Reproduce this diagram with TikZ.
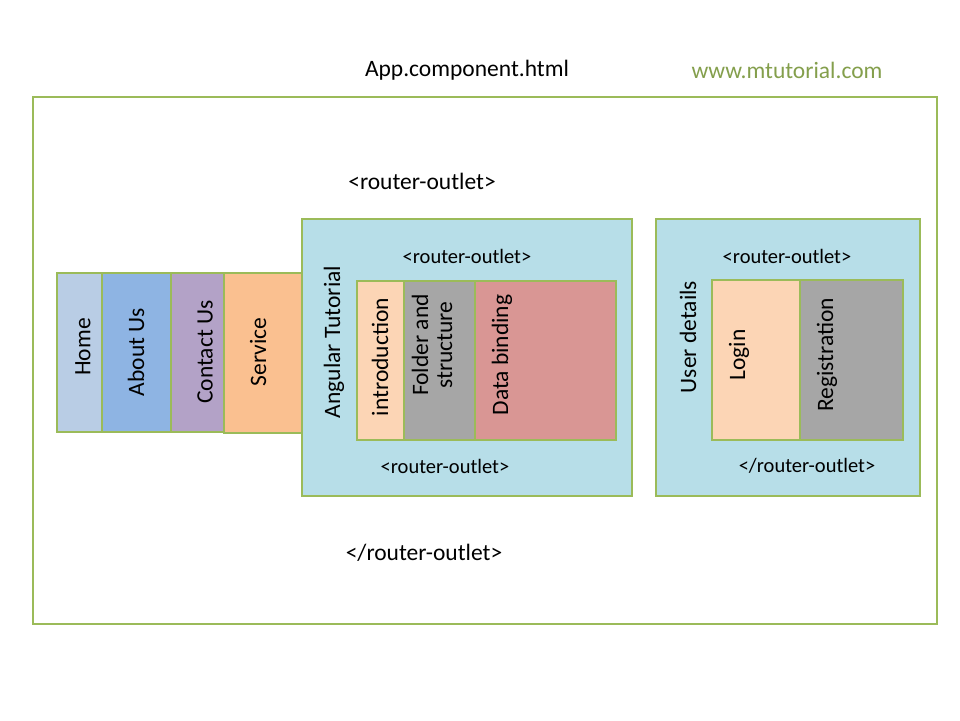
\documentclass[tikz,border=0pt]{standalone}
\usepackage{fontspec}
\setmainfont{Carlito}
\begin{document}
\begin{tikzpicture}[x=1pt,y=-1pt,
  bx/.style={draw=gr,line width=2.4pt},
  lb/.style={font=\fontsize{23.5}{24}\selectfont,inner sep=0pt},
  sl/.style={font=\fontsize{20.5}{22}\selectfont,inner sep=0pt},
  rl/.style={lb,rotate=90,align=center}]
\definecolor{gr}{HTML}{9BBB59}
\useasboundingbox (0,0) rectangle (960,720);
\fill[white] (0,0) rectangle (960,720);
\draw[bx,fill=white] (33,97) rectangle (937,624);
\node[lb] (t1) at (467,70) {App.component.html};
\node[lb,text=gr!85!black] (t2) at (787,70) {www.mtutorial.com};
\node[lb] (t3) at (422,181) {<router-outlet>};
\node[lb] (t4) at (424,553) {</router-outlet>};
\draw[bx,fill={rgb,255:red,185;green,205;blue,229}] (57,273) rectangle (102,432);
\draw[bx,fill={rgb,255:red,142;green,180;blue,227}] (102,273) rectangle (171,432);
\draw[bx,fill={rgb,255:red,179;green,162;blue,199}] (171,273) rectangle (224,432);
\draw[bx,fill={rgb,255:red,250;green,192;blue,144}] (224,273) rectangle (302,433);
\node[rl] (home) at (83,347) {Home};
\node[rl] (about) at (136,352) {About Us};
\node[rl] (contact) at (205,352) {Contact Us};
\node[rl] (service) at (258,352) {Service};
\draw[bx,fill={rgb,255:red,183;green,222;blue,232}] (302,219) rectangle (632,496);
\draw[bx,fill={rgb,255:red,252;green,213;blue,181}] (357,281) rectangle (404,440);
\draw[bx,fill={rgb,255:red,166;green,166;blue,166}] (404,281) rectangle (475,440);
\draw[bx,fill={rgb,255:red,217;green,150;blue,148}] (475,281) rectangle (616,440);
\node[rl] (ang) at (334,342) {Angular Tutorial};
\node[rl] (intro) at (380,357) {introduction};
\node[rl] (folder) at (432,345) {Folder and\\structure};
\node[rl] (data) at (502,355) {Data binding};
\node[sl] (r1) at (467,256) {<router-outlet>};
\node[sl] (r2) at (445,466) {<router-outlet>};
\draw[bx,fill={rgb,255:red,183;green,222;blue,232}] (656,219) rectangle (920,496);
\draw[bx,fill={rgb,255:red,252;green,213;blue,181}] (712,280) rectangle (800,440);
\draw[bx,fill={rgb,255:red,166;green,166;blue,166}] (800,280) rectangle (903,440);
\node[rl] (user) at (688,337) {User details};
\node[rl] (login) at (739,355) {Login};
\node[rl] (reg) at (827,355) {Registration};
\node[sl] (r3) at (787,256) {<router-outlet>};
\node[sl] (r4) at (807,466) {</router-outlet>};
\end{tikzpicture}
\end{document}
